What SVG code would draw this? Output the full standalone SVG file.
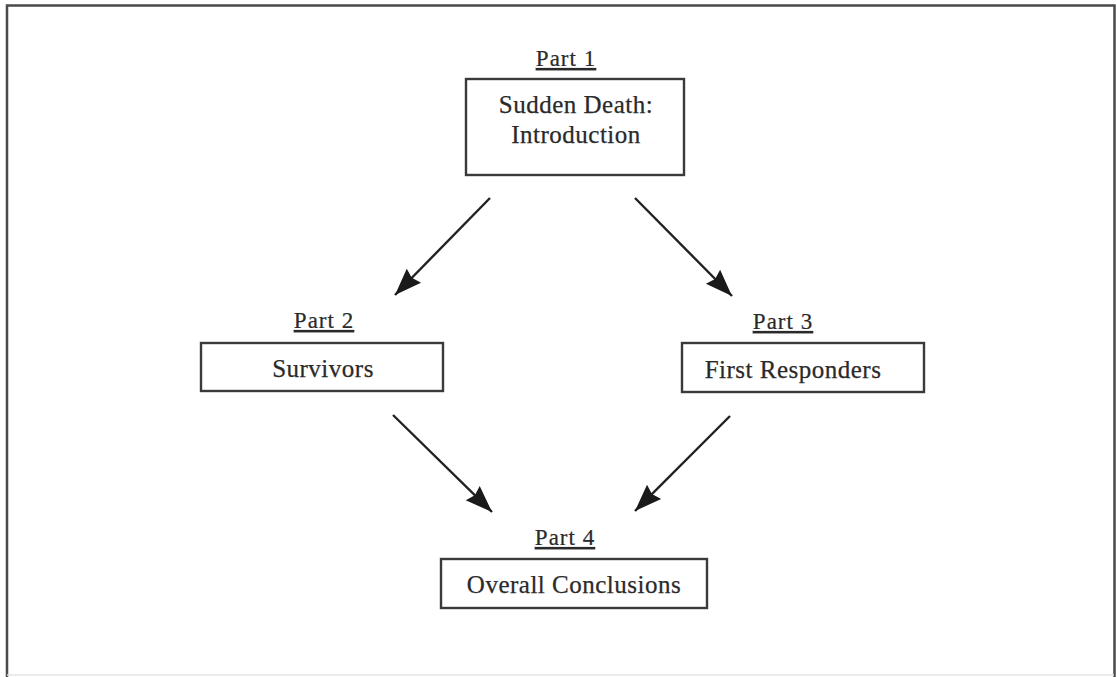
<svg xmlns="http://www.w3.org/2000/svg" width="1117" height="677" viewBox="0 0 1117 677">
<style>
.frame{fill:none;stroke:#4a4a4a;stroke-width:2.5}
.box{fill:#fff;stroke:#3a3a3a;stroke-width:2.4}
.t{font-family:"Liberation Serif","Times New Roman",serif;font-size:25px;fill:#2a2a2a;letter-spacing:0.5px;text-anchor:middle;stroke:#2a2a2a;stroke-width:0.25}
.p{font-family:"Liberation Serif","Times New Roman",serif;font-size:23px;fill:#2a2a2a;letter-spacing:1px;text-anchor:middle;text-decoration:underline;stroke:#2a2a2a;stroke-width:0.2}
.c{stroke:#222;stroke-width:2.4;fill:none;marker-end:url(#ah)}
</style>
<defs>
<marker id="ah" markerUnits="userSpaceOnUse" markerWidth="28" markerHeight="22" refX="27" refY="11" orient="auto">
<path d="M0,1 L27,11 L0,21 L3,11 z" fill="#1a1a1a"/>
</marker>
</defs>
<rect width="1117" height="677" fill="#fff"/>
<path class="frame" d="M7,677 L7,5.5 L1114.5,5.5 L1114.5,677"/>
<line x1="7" y1="675" x2="1114" y2="675" stroke="#e4e4e4" stroke-width="1.5"/>
<g id="connectors">
<line class="c" x1="490" y1="198" x2="395" y2="295"/>
<line class="c" x1="635" y1="198" x2="732" y2="296"/>
<line class="c" x1="393" y1="415" x2="492" y2="512"/>
<line class="c" x1="730" y1="416" x2="635" y2="511"/>
</g>
<g id="part1">
<text class="p" x="566" y="66">Part 1</text>
<rect class="box" x="466" y="79" width="218" height="96"/>
<text class="t" x="576" y="113">Sudden Death:</text>
<text class="t" x="576" y="143">Introduction</text>
</g>
<g id="part2">
<text class="p" x="324" y="328">Part 2</text>
<rect class="box" x="201" y="343" width="242" height="48"/>
<text class="t" x="323" y="377">Survivors</text>
</g>
<g id="part3">
<text class="p" x="783" y="329">Part 3</text>
<rect class="box" x="682" y="343" width="242" height="49"/>
<text class="t" x="793" y="378">First Responders</text>
</g>
<g id="part4">
<text class="p" x="565" y="545">Part 4</text>
<rect class="box" x="441" y="559" width="266" height="49"/>
<text class="t" x="574" y="593">Overall Conclusions</text>
</g>
</svg>
